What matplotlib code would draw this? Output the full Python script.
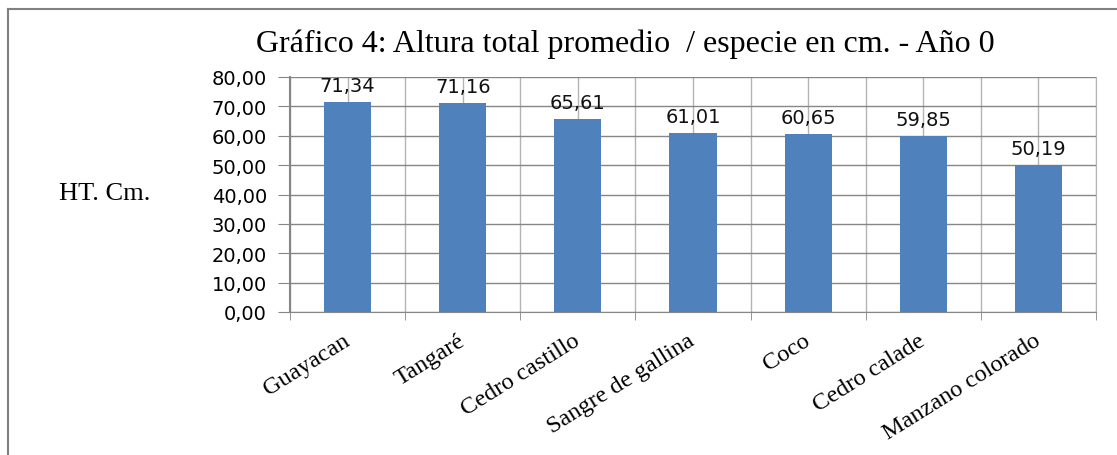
import numpy as np
import matplotlib.pyplot as plt
from matplotlib.lines import Line2D

especies = ['Guayacan', 'Tangaré', 'Cedro castillo', 'Sangre de gallina',
            'Coco', 'Cedro calade', 'Manzano colorado']
altura = [71.34, 71.16, 65.61, 61.01, 60.65, 59.85, 50.19]
yticks = [0, 10, 20, 30, 40, 50, 60, 70, 80]

def coma(v):
    return f'{v:.2f}'.replace('.', ',')

fig = plt.figure(figsize=(11.17, 4.56), dpi=100)
ax = fig.add_axes([290/1117, 1-313/456, (1096-290)/1117, (313-78)/456])

x = np.arange(len(especies))
ax.bar(x, altura, width=0.41, color='#4F81BD', zorder=3)
for xi, v in zip(x, altura):
    ax.text(xi, v + 2.4, coma(v), ha='center', va='bottom',
            fontsize=14, family='DejaVu Sans', color='#111111', zorder=4)

ax.set_xlim(-0.5, len(especies) - 0.5)
ax.set_ylim(0, 80)
ax.set_yticks(yticks)
ax.set_yticklabels([coma(v) for v in yticks], fontsize=14, family='DejaVu Sans')
ax.set_xticks(x)
ax.set_xticks(np.arange(len(especies) + 1) - 0.5, minor=True)
ax.set_xticklabels(especies, rotation=32, ha='right', va='center',
                   rotation_mode='anchor', fontsize=17.5, family='Liberation Serif')
ax.tick_params(axis='x', which='major', length=0, pad=19)
ax.tick_params(axis='x', which='minor', length=6, color='#868686')
ax.tick_params(axis='y', length=8.5, color='#868686', pad=8)

ax.grid(axis='y', color='#868686', linewidth=1.0, zorder=1)
ax.grid(axis='x', which='both', color='#b4b4b4', linewidth=1.0, zorder=1)
ax.spines['top'].set_visible(False)
ax.spines['left'].set_color('#868686')
ax.spines['left'].set_linewidth(1.5)
ax.spines['bottom'].set_color('#868686')
ax.spines['right'].set_color('#b4b4b4')

ax.set_ylabel('HT. Cm.', rotation=0, fontsize=19, family='Liberation Serif',
              labelpad=0)
ax.yaxis.set_label_coords(-(290-105)/806, (313-194)/235, transform=ax.transAxes)
ax.yaxis.label.set_ha('center')
ax.yaxis.label.set_va('center')

fig.text(625/1117, 1-44/456, 'Gráfico 4: Altura total promedio  / especie en cm. - Año 0',
         ha='center', va='center', fontsize=23, family='Liberation Serif')

fig.add_artist(Line2D([8/1117, 8/1117], [0, 1-10/456], transform=fig.transFigure,
                      color='#808080', linewidth=1.5))
fig.add_artist(Line2D([8/1117, 1], [1-10/456, 1-10/456], transform=fig.transFigure,
                      color='#808080', linewidth=1.5))

fig.savefig('out.png', dpi=100)
